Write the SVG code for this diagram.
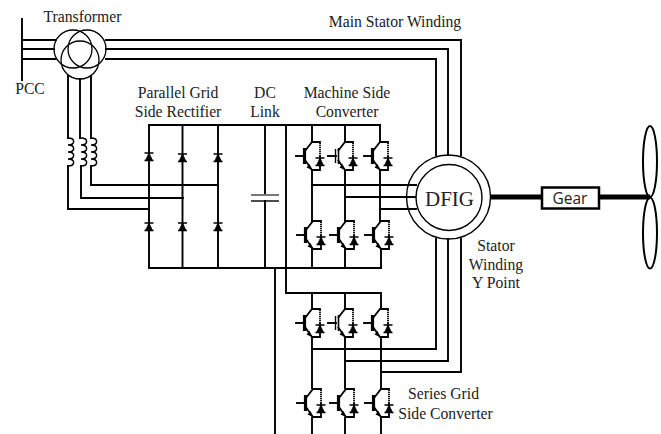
<svg xmlns="http://www.w3.org/2000/svg" xmlns:xlink="http://www.w3.org/1999/xlink" width="661" height="434" viewBox="0 0 661 434">
<style>
.w{fill:none;stroke:#000;stroke-width:1.9;stroke-linecap:square;stroke-linejoin:miter}
.t{fill:none;stroke:#000;stroke-width:1.3}
text{font-family:"Liberation Serif","Times New Roman",serif;font-size:15.7px;fill:#222;text-anchor:middle}
</style>
<defs>
<g id="diode">
<path d="M0 -4L-3.500 3.500H3.500Z" fill="#000" stroke="#000" stroke-width="0.8"/>
<path d="M-4.500 -4H4.500M-4.500 3.500H4.500" stroke="#000" stroke-width="1.300" fill="none"/>
</g>
<g id="igbtbody">
<path d="M-7 -5L0 -14H8V14H0L-7 4" fill="none" stroke="#000" stroke-width="1.800"/>
<path d="M0 14L-5.500 11.500L-2.500 8Z" fill="#000"/>
<use href="#diode" x="8" y="6"/>
<path d="M8 -12V0" stroke="#fff" stroke-width="1.400" stroke-dasharray="1 1" fill="none"/>
</g>
<g id="igbt">
<path class="w" d="M-16 0H-8"/>
<path d="M-7.500 -8V8" stroke="#000" stroke-width="3.200" fill="none"/>
<use href="#igbtbody"/>
</g>
<g id="igbt-gap">
<path class="w" d="M-17 0H-9"/>
<path d="M-9.500 -7V7" stroke="#000" stroke-width="1.400" fill="none"/>
<path d="M-6.500 -8V8" stroke="#000" stroke-width="1.600" fill="none"/>
<use href="#igbtbody"/>
</g>
<path id="coil" d="M0 0c7.500 0 7.500 7 0 7c7.500 0 7.500 7 0 7c7.500 0 7.500 7 0 7c7.500 0 7.500 7 0 7" fill="none" stroke="#000" stroke-width="1.500"/>
</defs>
<rect width="661" height="434" fill="#fff"/>
<g id="connectors">
<path class="w" d="M22 19V80"/>
<path class="w" d="M22 40H56M22 49H54M22 59H56"/>
<path class="w" d="M106 40H461V155M106 49H448V155M106 59H436V155"/>
<path class="w" d="M68 76V138M80 79V138M91 76V138"/>
<path class="w" d="M68 166V209H149M81 166V198H183M91 166V185H218"/>
<path class="w" d="M149 125H380M149 125V268M182.500 125V268M218 125V268"/>
<path class="w" d="M149 268H381"/>
<path class="w" d="M265 125V195M265 201V268"/>
<path class="w" d="M286 125V293H380M275 268V433"/>
<path class="w" d="M312 125V142M345 125V142M380 125V142"/>
<path class="w" d="M312 170V221M345 170V221M380 170V221"/>
<path class="w" d="M312 249V268M345 249V268M381 249V268"/>
<path class="w" d="M312 185H416M345 197H416M380 209H416"/>
<path class="w" d="M312 293V309M345 293V309M381 293V309"/>
<path class="w" d="M312 337V388M345 337V388M381 337V388"/>
<path class="w" d="M312 418V433M345 418V433M381 418V433"/>
<path class="w" d="M312 349H436V239M345 361H448V239M381 372H461V239"/>
<path d="M491 197H542M599 197H650" stroke="#000" stroke-width="5" fill="none"/>
</g>
<g id="pcc"><text x="30" y="94">PCC</text></g>
<g id="transformer">
<text x="82.500" y="22">Transformer</text>
<circle cx="73" cy="49" r="19" class="t"/>
<circle cx="87" cy="49" r="19" class="t"/>
<circle cx="80" cy="60" r="19" class="t"/>
</g>
<g id="inductors">
<use href="#coil" x="68" y="138"/>
<use href="#coil" x="81" y="138"/>
<use href="#coil" x="91" y="138"/>
</g>
<g id="rectifier">
<text x="178" y="98">Parallel Grid</text>
<text x="178" y="117">Side Rectifier</text>
<use href="#diode" x="149" y="157"/>
<use href="#diode" x="182.500" y="158"/>
<use href="#diode" x="218" y="158"/>
<use href="#diode" x="149" y="227"/>
<use href="#diode" x="182.500" y="227"/>
<use href="#diode" x="218" y="227"/>
</g>
<g id="dc-link">
<text x="265" y="98">DC</text>
<text x="265" y="117">Link</text>
<path d="M251 195H279" stroke="#777" stroke-width="2" fill="none"/>
<path d="M251 201H279" stroke="#000" stroke-width="1.400" fill="none"/>
</g>
<g id="machine-converter">
<text x="347" y="98">Machine Side</text>
<text x="347" y="117">Converter</text>
<use href="#igbt" x="312" y="156"/>
<use href="#igbt-gap" x="345" y="156"/>
<use href="#igbt" x="380" y="156"/>
<use href="#igbt" x="313" y="235"/>
<use href="#igbt" x="346" y="235"/>
<use href="#igbt" x="381" y="235"/>
</g>
<g id="series-converter">
<text x="443.500" y="399">Series Grid</text>
<text x="445.500" y="419">Side Converter</text>
<use href="#igbt" x="312" y="323"/>
<use href="#igbt-gap" x="345" y="323"/>
<use href="#igbt" x="380" y="323"/>
<use href="#igbt" x="313" y="403"/>
<use href="#igbt" x="346" y="403"/>
<use href="#igbt" x="381" y="403"/>
</g>
<g id="main-stator-label"><text x="395" y="27">Main Stator Winding</text></g>
<g id="dfig">
<circle cx="448.500" cy="197" r="42" fill="none" stroke="#000" stroke-width="1.400"/>
<circle cx="449" cy="197.500" r="33" fill="#fff" stroke="#000" stroke-width="1.400"/>
<text x="449.500" y="206" style="font-size:21px">DFIG</text>
</g>
<g id="stator-label">
<text x="496" y="251">Stator</text>
<text x="496" y="270">Winding</text>
<text x="496" y="288">Y Point</text>
</g>
<g id="gear">
<rect x="542" y="187.500" width="57" height="21" fill="#fff" stroke="#000" stroke-width="2.500"/>
<text x="570" y="204" style="font-family:'Open Sans','Noto Sans',sans-serif;font-size:15.500px">Gear</text>
</g>
<g id="blades">
<ellipse cx="650" cy="161.500" rx="7" ry="35.500" fill="none" stroke="#000" stroke-width="2"/>
<ellipse cx="650" cy="233" rx="7" ry="35.500" fill="none" stroke="#000" stroke-width="2"/>
</g>
</svg>
